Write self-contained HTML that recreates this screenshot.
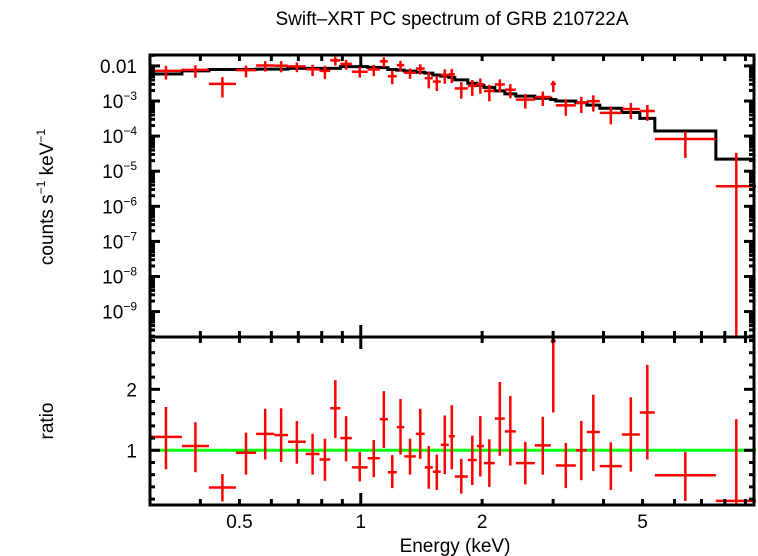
<!DOCTYPE html>
<html><head><meta charset="utf-8"><style>
html,body{margin:0;padding:0;background:#fff;}
svg{display:block;font-family:"Liberation Sans",sans-serif;}
</style></head><body>
<svg id="chart" width="758" height="556" viewBox="0 0 758 556" xmlns="http://www.w3.org/2000/svg">
<rect x="0" y="0" width="758" height="556" fill="#fff"/>
<text x="452" y="25" font-size="19" text-anchor="middle">Swift–XRT PC spectrum of GRB 210722A</text>
<text transform="translate(53,197) rotate(-90)" font-size="19" text-anchor="middle">counts s<tspan font-size="12" dy="-8">−1</tspan><tspan dy="8"> keV</tspan><tspan font-size="12" dy="-8">−1</tspan></text>
<text transform="translate(53,421) rotate(-90)" font-size="19" text-anchor="middle">ratio</text>
<text x="455" y="552" font-size="19" text-anchor="middle">Energy (keV)</text>
<g id="marks"></g>
<g id="axes"></g>
</svg>
<script>
const eLo = [0.30,0.36,0.42,0.49,0.55,0.61,0.66,0.73,0.79,0.84,0.89,0.95,1.04,1.115,1.167,1.228,1.282,1.369,1.441,1.509,1.579,1.653,1.711,1.843,1.94,2.02,2.15,2.277,2.424,2.702,2.96,3.046,3.415,3.637,3.917,4.442,4.923,5.363,7.60];
const eHi = [0.36,0.42,0.49,0.55,0.61,0.66,0.73,0.79,0.84,0.89,0.95,1.04,1.115,1.167,1.228,1.282,1.369,1.441,1.509,1.579,1.653,1.711,1.843,1.94,2.02,2.15,2.277,2.424,2.702,2.96,3.046,3.415,3.637,3.917,4.442,4.923,5.363,7.60,9.60];
const model = [5.9e-3,7.2e-3,7.9e-3,7.9e-3,8.1e-3,8.1e-3,8.5e-3,8.5e-3,8.5e-3,8.5e-3,9.5e-3,9.5e-3,9.1e-3,8.9e-3,7.9e-3,7.6e-3,7.1e-3,6.6e-3,6.2e-3,5.5e-3,5.1e-3,4.7e-3,4.0e-3,3.2e-3,2.8e-3,2.45e-3,1.95e-3,1.6e-3,1.38e-3,1.2e-3,1.1e-3,1.0e-3,8.9e-4,7.6e-4,6.2e-4,4.7e-4,3.2e-4,1.4e-4,2.2e-5];
const ratio = [1.22,1.07,0.39,0.96,1.27,1.25,1.14,0.94,0.85,1.69,1.20,0.72,0.87,1.51,0.64,1.38,0.90,1.27,0.72,0.65,1.09,1.23,0.57,0.84,1.07,0.79,1.52,1.31,0.79,1.08,2.79,0.75,1.00,1.30,0.74,1.26,1.62,0.59,0.17];
const ratioLo = [0.69,0.64,0.16,0.60,0.85,0.81,0.78,0.60,0.50,1.20,0.82,0.49,0.56,1.04,0.38,0.93,0.60,0.86,0.37,0.35,0.61,0.69,0.29,0.43,0.57,0.40,0.91,0.75,0.44,0.60,1.62,0.38,0.51,0.66,0.35,0.65,0.85,0.17,0.00];
const ratioHi = [1.71,1.46,0.61,1.29,1.68,1.69,1.48,1.27,1.19,2.15,1.56,0.97,1.17,1.97,0.92,1.84,1.19,1.68,1.07,0.93,1.57,1.74,0.86,1.24,1.56,1.18,2.12,1.89,1.14,1.55,3.40,1.12,1.48,1.91,1.13,1.87,2.40,0.97,1.51];
const xTickLabels = ["0.5","1","2","5"];
const xTickValues = [0.5,1,2,5];
const yTopExps = [-2,-3,-4,-5,-6,-7,-8,-9];
const yBotTicks = ["1","2"];

const NS = "http://www.w3.org/2000/svg";
const L = 150, R = 754, T1 = 55, B1 = 337, B2 = 505;
const XMIN = 0.3, XMAX = 9.45;
const x = e => L + (Math.log10(e) - Math.log10(XMIN)) / (Math.log10(XMAX) - Math.log10(XMIN)) * (R - L);
const yTopLogMax = -3 + (101 - T1) / 35.1, yTopLogMin = -3 - (B1 - 101) / 35.1;
const yT = v => T1 + (yTopLogMax - Math.log10(v)) / (yTopLogMax - yTopLogMin) * (B1 - T1);
const yTc = v => v <= 0 ? B1 : Math.min(B1, Math.max(T1, yT(v)));
const RMIN = 1 - (B2 - 450.3) / 61, RMAX = 1 + (450.3 - B1) / 61;
const yB = r => B1 + (RMAX - r) / (RMAX - RMIN) * (B2 - B1);
const yBc = r => Math.min(B2, Math.max(B1, yB(r)));
const marks = document.getElementById('marks');
const axes = document.getElementById('axes');
function mk(tag, attrs, parent) {
  const el = document.createElementNS(NS, tag);
  for (const k in attrs) el.setAttribute(k, attrs[k]);
  parent.appendChild(el);
  return el;
}
function line(x1, y1, x2, y2, col, w, parent) {
  return mk('line', {x1: x1, y1: y1, x2: x2, y2: y2, stroke: col, 'stroke-width': w}, parent);
}

let d = '';
for (let i = 0; i < model.length; i++) {
  const yy = yT(model[i]);
  d += (i === 0 ? 'M' : 'L') + x(eLo[i]) + ',' + yy + 'L' + Math.min(R, x(eHi[i])) + ',' + yy;
}
const step = mk('path', {d: d, fill: 'none', stroke: '#000', 'stroke-width': 3}, marks);



const g1 = line(L, yB(1), R + 2, yB(1), '#00ff00', 3, marks);



for (let i = 0; i < ratio.length; i++) {
  const xc = x(Math.sqrt(eLo[i] * eHi[i]));
  const x1 = x(eLo[i]), x2 = Math.min(R + 2, x(eHi[i]));
  const g = mk('g', {}, marks);
  
  
  const v = model[i] * ratio[i];
  line(x1, yTc(v), x2, yTc(v), '#ff0000', 2.5, g);
  line(xc, yTc(model[i] * ratioHi[i]), xc, yTc(model[i] * ratioLo[i]), '#ff0000', 2.5, g);
  const gr = mk('g', {}, marks);
  
  
  if (ratio[i] >= RMIN && ratio[i] <= RMAX) line(x1, yB(ratio[i]), x2, yB(ratio[i]), '#ff0000', 2.5, gr);
  line(xc, yBc(ratioHi[i]), xc, yBc(ratioLo[i]), '#ff0000', 2.5, gr);
}

const f1 = mk('rect', {x: L, y: T1, width: R - L, height: B1 - T1, fill: 'none', stroke: '#000', 'stroke-width': 3}, axes);


const f2 = mk('rect', {x: L, y: B1, width: R - L, height: B2 - B1, fill: 'none', stroke: '#000', 'stroke-width': 3}, axes);



const xt = mk('g', {}, axes);


for (let dec = 0.1; dec < 20; dec *= 10) {
  for (let m = 1; m <= 9; m++) {
    const e = dec * m;
    if (e < XMIN || e > XMAX) continue;
    const xx = x(e), len = m === 1 ? 12 : 6;
    [[T1, 1], [B1, -1], [B1, 1], [B2, -1]].forEach(([y0, s]) => line(xx, y0, xx, y0 + s * len, '#000', 3, xt));
  }
}
for (let i = 0; i < xTickValues.length; i++) {
  const t = mk('text', {x: x(xTickValues[i]), y: 528, 'font-size': 19, 'text-anchor': 'middle'}, axes);
  t.textContent = xTickLabels[i];
  
  
}

const yt = mk('g', {}, axes);


for (let ex = -10; ex <= -2; ex++) {
  for (let m = 1; m <= 9; m++) {
    const v = m * Math.pow(10, ex);
    const yy = yT(v);
    if (yy < T1 || yy > B1) continue;
    const len = m === 1 ? 10 : 5;
    line(L, yy, L + len, yy, '#000', 3, yt);
    line(R, yy, R - len, yy, '#000', 3, yt);
  }
}
for (let i = 0; i < yTopExps.length; i++) {
  const ex = yTopExps[i];
  const t = mk('text', {x: 137, y: yT(Math.pow(10, ex)) + 7, 'font-size': 19, 'text-anchor': 'end'}, axes);
  if (ex === -2) t.textContent = '0.01';
  else t.innerHTML = '10<tspan font-size="12" dy="-8">−' + (-ex) + '</tspan>';
  
  
}

const yb = mk('g', {}, axes);


for (let k = 1; k <= 14; k++) {
  const r = k * 0.2, yy = yB(r);
  if (yy < B1 || yy > B2) continue;
  const len = (k % 5 === 0) ? 10 : 5;
  line(L, yy, L + len, yy, '#000', 3, yb);
  line(R, yy, R - len, yy, '#000', 3, yb);
}
for (let i = 0; i < yBotTicks.length; i++) {
  const t = mk('text', {x: 137, y: yB(parseFloat(yBotTicks[i])) + 7, 'font-size': 19, 'text-anchor': 'end'}, axes);
  t.textContent = yBotTicks[i];
  
  
}
</script>
</body></html>
